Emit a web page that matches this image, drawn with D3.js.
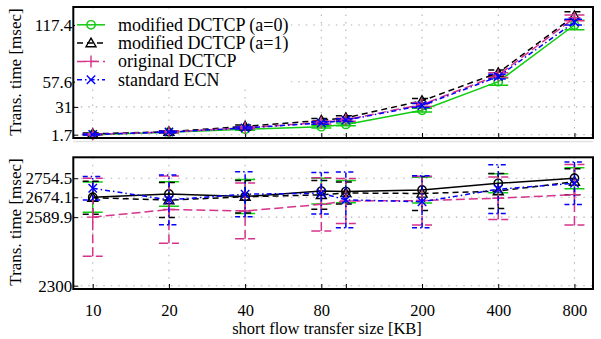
<!DOCTYPE html>
<html>
<head>
<meta charset="utf-8">
<script src="https://cdn.jsdelivr.net/npm/d3@7"></script>
<style>
  html, body { margin: 0; padding: 0; background: #fff; }
  svg { display: block; }
  text { font-family: "Liberation Serif", "Times New Roman", serif; fill: #000; }
</style>
</head>
<body>
<svg id="chart" width="601" height="339"></svg>
<script>
// Flow sizes (KB) and axis ticks
const sizes = [10, 20, 40, 80, 100, 200, 400, 800];
const xTickValues = [10, 20, 40, 80, 100, 200, 400, 800];
const xTickLabels = ["10", "20", "40", "80", "", "200", "400", "800"];
const seriesNames = ["modified DCTCP (a=0)", "modified DCTCP (a=1)", "original DCTCP", "standard ECN"];

// Upper panel: short-flow transfer time [msec]
const shortTicks = [1.7, 31, 57.6, 117.4];
const shortA0 = [1.7, 4.3, 7.5, 10.1, 12.5, 27.5, 57.6, 117.4];
const shortA0Err = [0.6, 0.8, 1.0, 1.4, 1.5, 2.0, 3.8, 5.0];
const shortA1 = [2.6, 4.8, 10.5, 16.8, 19.5, 37.5, 67.0, 127.0];
const shortA1Err = [0.8, 1.0, 1.4, 2.0, 2.2, 2.5, 3.0, 4.5];
const shortOrig = [2.0, 4.6, 9.0, 14.5, 17.5, 33.5, 64.5, 125.0];
const shortOrigErr = [0.6, 0.8, 1.0, 1.5, 1.6, 2.0, 2.5, 3.0];
const shortEcn = [1.9, 4.5, 8.8, 14.0, 17.0, 32.5, 63.0, 120.5];
const shortEcnErr = [0.5, 0.7, 1.0, 1.3, 1.5, 2.0, 2.5, 3.0];

// Lower panel: long-flow transfer time [msec]
const longTicks = [2300, 2589.9, 2674.1, 2754.5];
const longA0 = [2674.1, 2688, 2677, 2700, 2698, 2705, 2733, 2754.5];
const longA0Err = [64, 52, 72, 54, 47, 55, 40, 44];
const longA1 = [2672, 2662, 2676, 2684, 2692, 2690, 2700, 2740];
const longA1Err = [70, 74, 69, 61, 47, 72, 74, 55];
const longOrig = [2589.9, 2622, 2616, 2644, 2658, 2660, 2670, 2685];
const longOrigErr = [165, 142, 118, 113, 95, 103, 90, 128];
const longEcn = [2712, 2663, 2687, 2691, 2663, 2655, 2708, 2733];
const longEcnErr = [50, 105, 95, 88, 118, 110, 103, 90];

const GREEN = "#11cc11", BLACK = "#000", MAGENTA = "#d6338c", BLUE = "#0000ff";
const SERIF = "Liberation Serif, Times New Roman, serif";

const svg = d3.select("#chart");
const left = 73.3, right = 593;

const x = d3.scaleLog().domain([8.38, 947]).range([left, right]);

const panels = [
  { top: 7, bottom: 138, domain: [-1.8, 136.4], ticks: shortTicks,
    series: [
      { v: shortA0, e: shortA0Err, line: GREEN, err: GREEN, dash: null, marker: "circle" },
      { v: shortA1, e: shortA1Err, line: BLACK, err: BLACK, dash: "6,4", marker: "triangle" },
      { v: shortOrig, e: shortOrigErr, line: MAGENTA, err: MAGENTA, dash: "9,4", marker: "plus" },
      { v: shortEcn, e: shortEcnErr, line: BLUE, err: BLUE, dash: "5,3,1.5,3", marker: "cross" }
    ], xLabels: false, yLabelY: 72 },
  { top: 157.3, bottom: 289, domain: [2286, 2843], ticks: longTicks,
    series: [
      { v: longA0, e: longA0Err, line: BLACK, err: GREEN, dash: null, marker: "circle" },
      { v: longA1, e: longA1Err, line: BLACK, err: BLACK, dash: "6,4", marker: "triangle" },
      { v: longOrig, e: longOrigErr, line: MAGENTA, err: MAGENTA, dash: "9,4", marker: "plus" },
      { v: longEcn, e: longEcnErr, line: BLUE, err: BLUE, dash: "5,3,1.5,3", marker: "cross" }
    ], xLabels: true, yLabelY: 222 }
];

function drawMarker(g, type, cx, cy, color) {
  const s = g.append("g").attr("transform", `translate(${cx},${cy})`)
    .attr("fill", "none").attr("stroke", color).attr("stroke-width", 1.4);
  if (type === "circle") s.append("circle").attr("r", 4.2);
  else if (type === "triangle") s.append("path").attr("d", "M0,-5L5,3.6L-5,3.6Z");
  else if (type === "plus") s.append("path").attr("d", "M-6,0H6M0,-6V6");
  else if (type === "cross") s.append("path").attr("d", "M-4.2,-4.2L4.2,4.2M-4.2,4.2L4.2,-4.2");
}

panels.forEach(p => {
  const y = d3.scaleLinear().domain(p.domain).range([p.bottom, p.top]);
  const g = svg.append("g");

  // dotted grid
  const grid = g.append("g").attr("stroke", "#b4b4b4").attr("stroke-width", 1.1)
    .attr("stroke-dasharray", "1.5,6");
  xTickValues.forEach(t => grid.append("line")
    .attr("x1", x(t)).attr("x2", x(t)).attr("y1", p.top).attr("y2", p.bottom));
  p.ticks.forEach(t => grid.append("line")
    .attr("x1", left).attr("x2", right).attr("y1", y(t)).attr("y2", y(t)));

  // y axis labels and inward ticks
  const yAxis = d3.axisLeft(y).tickValues(p.ticks).tickSize(-5).tickPadding(2)
    .tickFormat(d => String(d));
  const ya = g.append("g").attr("transform", `translate(${left},0)`).call(yAxis);
  ya.attr("font-family", SERIF);
  ya.select(".domain").remove();
  ya.selectAll(".tick line").attr("stroke", "#000");
  ya.selectAll(".tick text").attr("font-size", 17).attr("x", -1);

  // x axis ticks (labels only on the lower panel)
  const xAxis = d3.axisBottom(x).tickValues(xTickValues).tickSize(-5).tickPadding(20)
    .tickFormat((d, i) => p.xLabels ? xTickLabels[i] : "");
  const xa = g.append("g").attr("transform", `translate(0,${p.bottom})`).call(xAxis);
  xa.attr("font-family", SERIF);
  xa.select(".domain").remove();
  xa.selectAll(".tick line").attr("stroke", "#000");
  xa.selectAll(".tick text").attr("font-size", 16.5).attr("y", 15.5);

  // series: error bars, lines, markers
  p.series.forEach(s => {
    const eb = g.append("g").attr("stroke", s.err).attr("stroke-width", 1.5)
      .attr("fill", "none").attr("stroke-dasharray", s.dash);
    sizes.forEach((k, i) => {
      const cx = x(k), y0 = y(s.v[i] - s.e[i]), y1 = y(s.v[i] + s.e[i]);
      eb.append("path").attr("d",
        `M${cx},${y0}V${y1}M${cx - 10},${y0}H${cx + 10}M${cx - 10},${y1}H${cx + 10}`);
    });
    const line = d3.line().x((d, i) => x(sizes[i])).y(d => y(d));
    g.append("path").datum(s.v).attr("d", line).attr("fill", "none")
      .attr("stroke", s.line).attr("stroke-width", 1.5).attr("stroke-dasharray", s.dash);
    sizes.forEach((k, i) => drawMarker(g, s.marker, x(k), y(s.v[i]), s.line));
  });

  // axes box
  g.append("rect").attr("x", left).attr("y", p.top)
    .attr("width", right - left).attr("height", p.bottom - p.top)
    .attr("fill", "none").attr("stroke", "#000").attr("stroke-width", 2);

  // y axis title
  g.append("text").attr("transform", `translate(21,${p.yLabelY}) rotate(-90)`)
    .attr("text-anchor", "middle").attr("font-size", 17).text("Trans. time [msec]");
});

// faint separator under the upper panel
svg.append("line").attr("x1", left).attr("x2", right).attr("y1", 141.5).attr("y2", 141.5)
  .attr("stroke", "#e2e2e2").attr("stroke-width", 1.5);

// x axis title
svg.append("text").attr("x", 327).attr("y", 334).attr("text-anchor", "middle")
  .attr("font-size", 16.5).text("short flow transfer size [KB]");

// legend (upper panel, top-left)
const legendColors = [GREEN, BLACK, MAGENTA, BLUE];
const legendDash = [null, "6,4", "9,4", "5,3,1.5,3"];
const legendMarkers = ["circle", "triangle", "plus", "cross"];
const leg = svg.append("g");
leg.append("rect").attr("x", 75).attr("y", 13).attr("width", 216).attr("height", 76)
  .attr("fill", "#fff");
seriesNames.forEach((name, i) => {
  const ly = 24.8 + i * 18.3;
  leg.append("line").attr("x1", 77).attr("x2", 105).attr("y1", ly).attr("y2", ly)
    .attr("stroke", legendColors[i]).attr("stroke-width", 1.5)
    .attr("stroke-dasharray", legendDash[i]);
  drawMarker(leg, legendMarkers[i], 91, ly, legendColors[i]);
  leg.append("text").attr("x", 118).attr("y", ly).attr("dy", "0.33em")
    .attr("font-size", 18).text(name);
});
</script>
</body>
</html>
